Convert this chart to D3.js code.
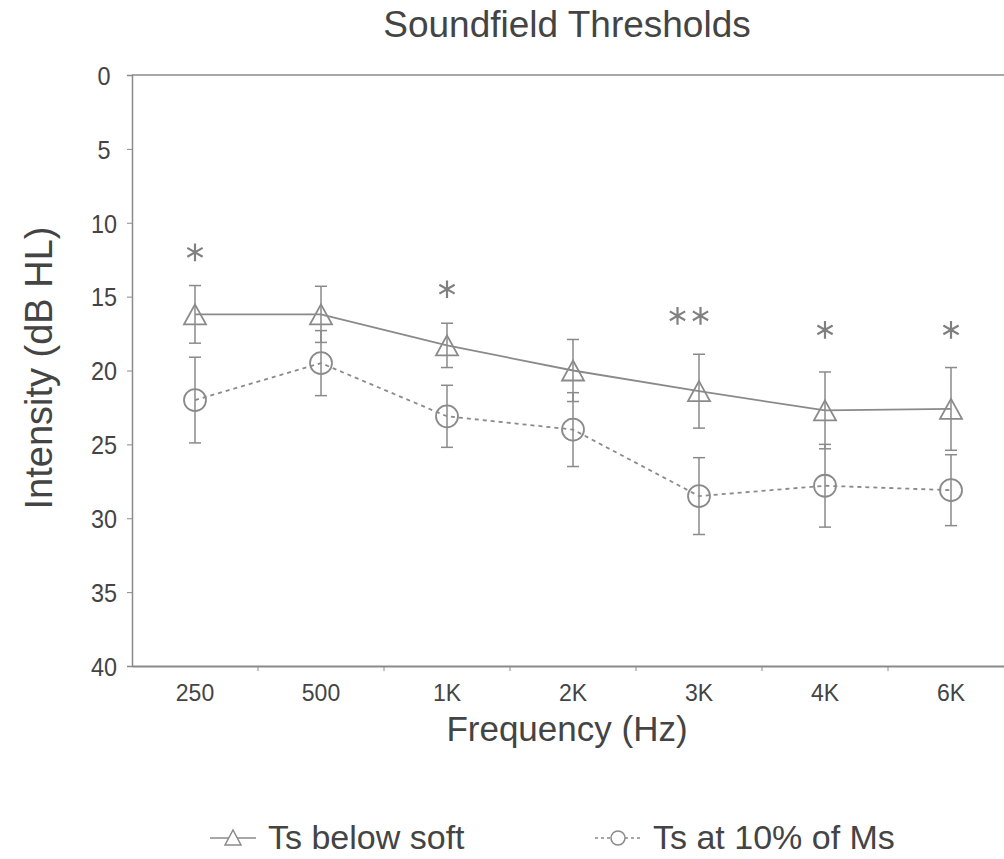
<!DOCTYPE html>
<html>
<head>
<meta charset="utf-8">
<script src="https://cdn.jsdelivr.net/npm/d3@7"></script>
<style>
  body { margin: 0; background: white; overflow: hidden; }
  svg { display: block; }
  text { font-family: Arial, "Liberation Sans", sans-serif; }
</style>
</head>
<body>
<div id="chart"></div>
<script>
// Data
const frequencies = ['250', '500', '1K', '2K', '3K', '4K', '6K'];
const belowSoft = [16.2, 16.2, 18.3, 20.0, 21.4, 22.7, 22.6];
const belowSoftErr = [1.95, 1.9, 1.5, 2.1, 2.5, 2.6, 2.8];
const tenPercent = [22.0, 19.5, 23.1, 24.0, 28.5, 27.8, 28.1];
const tenPercentErr = [2.9, 2.2, 2.1, 2.5, 2.6, 2.8, 2.4];
const starCounts = [1, 0, 1, 0, 2, 1, 1];
const starLevels = [12.0, null, 14.5, null, 16.3, 17.25, 17.25];
const yTicks = [0, 5, 10, 15, 20, 25, 30, 35, 40];

let width = 1004,
    height = 859;

let margin = { top: 75, bottom: 193, left: 132, right: -10 };

let svg = d3.select('#chart')
            .append('svg')
            .attr('width', width)
            .attr('height', height)
            .style('background', 'white');

let xScale = d3.scaleBand()
            .domain(frequencies)
            .range([margin.left, width - margin.right])
            .padding(0);

let yScale = d3.scaleLinear()
            .domain([0, 40])
            .range([margin.top, height - margin.bottom]);

const grey = '#8a8a8a';
const textColor = '#444';

// Y axis
let yAxis = svg.append('g')
            .attr('transform', `translate(${margin.left},0)`)
            .call(d3.axisLeft(yScale).tickValues(yTicks).tickSize(5).tickPadding(26));
yAxis.select('.domain').attr('stroke', grey).attr('stroke-width', 1.5);
yAxis.selectAll('line').attr('stroke', grey);
yAxis.selectAll('text')
    .attr('fill', textColor)
    .attr('text-anchor', 'middle')
    .attr('dy', '0.36em')
    .style('font-size', '26px')
    .attr('transform', 'scale(0.9,1)')
    .attr('x', -28 / 0.9);

// X axis (ticks between categories)
let xAxis = svg.append('g')
            .attr('transform', `translate(0,${yScale(40)})`)
            .call(d3.axisBottom(xScale).tickSize(0).tickPadding(19));
xAxis.select('.domain').attr('stroke', grey).attr('stroke-width', 2);
xAxis.selectAll('text').attr('fill', textColor).style('font-size', '23px');

svg.append('g')
    .selectAll('line')
    .data(frequencies.slice(1))
    .enter().append('line')
    .attr('x1', d => xScale(d))
    .attr('x2', d => xScale(d))
    .attr('y1', yScale(40))
    .attr('y2', yScale(40) + 5)
    .attr('stroke', grey);

// Top border line
svg.append('line')
    .attr('x1', margin.left)
    .attr('x2', width)
    .attr('y1', yScale(0))
    .attr('y2', yScale(0))
    .attr('stroke', grey)
    .attr('stroke-width', 1.5);

const cx = d => xScale(d) + xScale.bandwidth() / 2;

// Error bars
function drawErrors(values, errs) {
    const g = svg.append('g').attr('stroke', grey).attr('stroke-width', 1.5);
    frequencies.forEach((f, i) => {
        const x = cx(f);
        const top = yScale(values[i] - errs[i]);
        const bot = yScale(values[i] + errs[i]);
        g.append('line').attr('x1', x).attr('x2', x).attr('y1', top).attr('y2', bot);
        g.append('line').attr('x1', x - 6).attr('x2', x + 6).attr('y1', top).attr('y2', top);
        g.append('line').attr('x1', x - 6).attr('x2', x + 6).attr('y1', bot).attr('y2', bot);
    });
}
drawErrors(belowSoft, belowSoftErr);
drawErrors(tenPercent, tenPercentErr);

// Lines
const line = d3.line()
    .x((d, i) => cx(frequencies[i]))
    .y(d => yScale(d));

svg.append('path')
    .datum(belowSoft)
    .attr('d', line)
    .attr('fill', 'none')
    .attr('stroke', grey)
    .attr('stroke-width', 1.8);

svg.append('path')
    .datum(tenPercent)
    .attr('d', line)
    .attr('fill', 'none')
    .attr('stroke', grey)
    .attr('stroke-width', 1.8)
    .attr('stroke-dasharray', '4,4');

// Markers
const triPath = 'M0,-11L11,9L-11,9Z';

svg.selectAll('.tri')
    .data(belowSoft)
    .enter().append('path')
    .attr('class', 'tri')
    .attr('d', triPath)
    .attr('transform', (d, i) => `translate(${cx(frequencies[i])},${yScale(d) + 1})`)
    .attr('fill', 'none')
    .attr('stroke', grey)
    .attr('stroke-width', 1.8);

svg.selectAll('.circ')
    .data(tenPercent)
    .enter().append('circle')
    .attr('class', 'circ')
    .attr('cx', (d, i) => cx(frequencies[i]))
    .attr('cy', d => yScale(d))
    .attr('r', 11)
    .attr('fill', 'none')
    .attr('stroke', grey)
    .attr('stroke-width', 1.8);

// Significance stars
const star = d3.symbol().type(d3.symbolAsterisk).size(220);
const stars = [];
frequencies.forEach((f, i) => {
    for (let k = 0; k < starCounts[i]; k++) {
        const offset = (k - (starCounts[i] - 1) / 2) * 23;
        stars.push({ x: cx(f) + offset - (starCounts[i] > 1 ? 10 : 0), y: yScale(starLevels[i]) });
    }
});

svg.selectAll('.star')
    .data(stars)
    .enter().append('path')
    .attr('class', 'star')
    .attr('d', star)
    .attr('transform', d => `translate(${d.x},${d.y})`)
    .attr('fill', 'none')
    .attr('stroke', '#808080')
    .attr('stroke-width', 2.2);

// Title
svg.append('text')
    .attr('x', 567)
    .attr('y', 37)
    .attr('text-anchor', 'middle')
    .attr('fill', textColor)
    .style('font-size', '37px')
    .text('Soundfield Thresholds');

// Axis labels
svg.append('text')
    .attr('transform', 'rotate(-90)')
    .attr('x', -368)
    .attr('y', 52)
    .attr('text-anchor', 'middle')
    .attr('fill', textColor)
    .style('font-size', '38px')
    .text('Intensity (dB HL)');

svg.append('text')
    .attr('x', 567)
    .attr('y', 741)
    .attr('text-anchor', 'middle')
    .attr('fill', textColor)
    .style('font-size', '35px')
    .text('Frequency (Hz)');

// Legend
const legendData = [
    { label: 'Ts below soft', x: 210, dash: null, shape: 'tri' },
    { label: 'Ts at 10% of Ms', x: 595, dash: '3,3', shape: 'circ' }
];

const legend = svg.selectAll('.legend')
    .data(legendData)
    .enter().append('g')
    .attr('class', 'legend')
    .attr('transform', d => `translate(${d.x},838)`);

legend.append('line')
    .attr('x1', 0)
    .attr('x2', 46)
    .attr('y1', 0)
    .attr('y2', 0)
    .attr('stroke', grey)
    .attr('stroke-width', 1.5)
    .attr('stroke-dasharray', d => d.dash);

legend.filter(d => d.shape === 'tri').append('path')
    .attr('d', 'M0,-8L8,7L-8,7Z')
    .attr('transform', 'translate(23,0)')
    .attr('fill', 'white')
    .attr('stroke', grey)
    .attr('stroke-width', 1.5);

legend.filter(d => d.shape === 'circ').append('circle')
    .attr('cx', 23)
    .attr('cy', 0)
    .attr('r', 7)
    .attr('fill', 'white')
    .attr('stroke', grey)
    .attr('stroke-width', 1.5);

legend.append('text')
    .attr('x', 58)
    .attr('y', 11)
    .attr('fill', textColor)
    .style('font-size', '34px')
    .text(d => d.label);
</script>
</body>
</html>
